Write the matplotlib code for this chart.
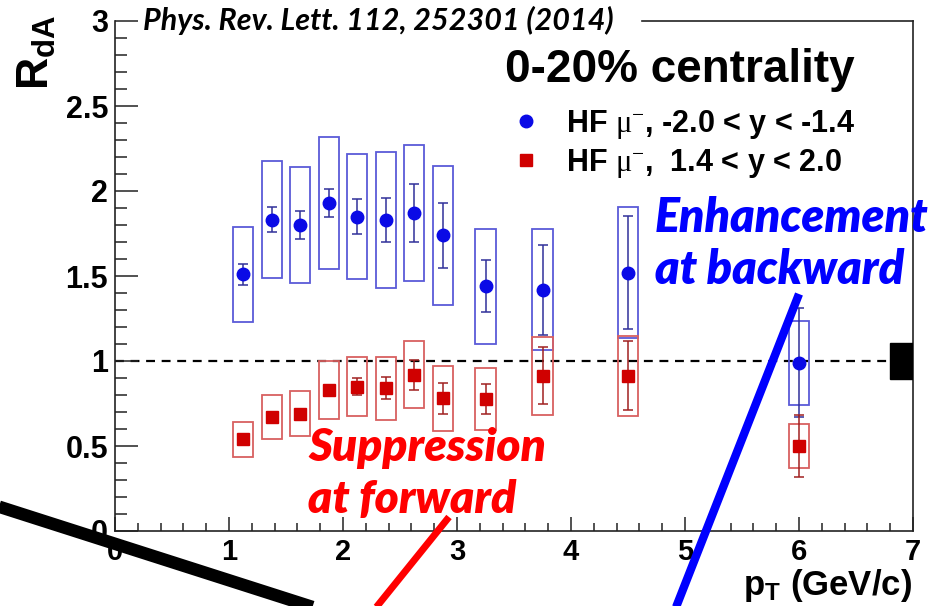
import matplotlib
matplotlib.use("Agg")
import matplotlib.pyplot as plt
from matplotlib.lines import Line2D
from matplotlib.patches import Rectangle
from matplotlib.ticker import MultipleLocator

# HF muon R_dA in 0-20% central d+Au, backward (-2.0<y<-1.4) and forward (1.4<y<2.0)
pt_backward = [1.12, 1.375, 1.62, 1.875, 2.125, 2.375, 2.625, 2.875, 3.25, 3.75, 4.5, 6.0]
rda_backward = [1.51, 1.83, 1.80, 1.93, 1.85, 1.83, 1.87, 1.74, 1.44, 1.42, 1.52, 0.99]
stat_backward = [0.06, 0.074, 0.082, 0.082, 0.10, 0.128, 0.17, 0.19, 0.154, 0.265, 0.334, 0.32]
sys_backward = [0.28, 0.344, 0.34, 0.387, 0.37, 0.40, 0.40, 0.408, 0.339, 0.357, 0.385, 0.247]

pt_forward = [1.12, 1.375, 1.62, 1.875, 2.125, 2.375, 2.625, 2.875, 3.25, 3.75, 4.5, 6.0]
rda_forward = [0.54, 0.67, 0.69, 0.83, 0.85, 0.84, 0.92, 0.78, 0.776, 0.914, 0.914, 0.50]
stat_forward = [0.02, 0.02, 0.025, 0.03, 0.05, 0.063, 0.088, 0.092, 0.088, 0.168, 0.204, 0.18]
sys_forward = [0.103, 0.128, 0.133, 0.17, 0.175, 0.186, 0.197, 0.19, 0.184, 0.23, 0.236, 0.132]

labels = [r"HF $\mathrm{\mu}^{-}$, -2.0 < y < -1.4", r"HF $\mathrm{\mu}^{-}$,  1.4 < y < 2.0"]

norm_unc = 0.107          # global normalisation uncertainty
box_halfwidth = 0.088

W, H = 937, 606
DPI = 100.0
AX_L, AX_R, AX_T, AX_B = 115, 913, 21, 531


def px(x, y):
    # pixel position (from top-left) -> figure fraction
    return x / W, 1 - y / H


plt.rcParams["font.family"] = ["Liberation Sans", "DejaVu Sans"]
plt.rcParams["mathtext.fontset"] = "custom"
plt.rcParams["mathtext.rm"] = "Liberation Serif"
plt.rcParams["mathtext.it"] = "Liberation Serif:italic"
plt.rcParams["mathtext.bf"] = "Liberation Sans:bold"
plt.rcParams["mathtext.sf"] = "Liberation Sans"

fig = plt.figure(figsize=(W / DPI, H / DPI), dpi=DPI)
ax = fig.add_axes([AX_L / W, 1 - AX_B / H, (AX_R - AX_L) / W, (AX_B - AX_T) / H])

blue_mk, blue_box, blue_err = "#0a0ae6", "#5a5ad8", "#30309a"
red_mk, red_box, red_err = "#d00000", "#d86060", "#a02020"

for x, y, s in zip(pt_backward, rda_backward, sys_backward):
    ax.add_patch(Rectangle((x - box_halfwidth, y - s), 2 * box_halfwidth, 2 * s,
                           fill=False, edgecolor=blue_box, lw=1.3, zorder=2))
for x, y, s in zip(pt_forward, rda_forward, sys_forward):
    ax.add_patch(Rectangle((x - box_halfwidth, y - s), 2 * box_halfwidth, 2 * s,
                           fill=False, edgecolor=red_box, lw=1.3, zorder=2))

ax.axhline(1.0, color="black", lw=1.6, dashes=(4, 3), zorder=1)

ax.errorbar(pt_backward, rda_backward, yerr=stat_backward, fmt="o", ms=9,
            color=blue_mk, ecolor=blue_err, elinewidth=1.1, capsize=3.5,
            capthick=1.1, zorder=4)
ax.errorbar(pt_forward, rda_forward, yerr=stat_forward, fmt="s", ms=9,
            color=red_mk, ecolor=red_err, elinewidth=1.1, capsize=3.5,
            capthick=1.1, zorder=4)

ax.add_patch(Rectangle((6.8, 1 - norm_unc), 0.2, 2 * norm_unc, facecolor="black",
                       edgecolor="black", zorder=3))

ax.set_xlim(0, 7)
ax.set_ylim(0, 3)
ax.xaxis.set_major_locator(MultipleLocator(1))
ax.xaxis.set_minor_locator(MultipleLocator(0.2))
ax.yaxis.set_major_locator(MultipleLocator(0.5))
ax.yaxis.set_minor_locator(MultipleLocator(0.1))
ax.yaxis.set_major_formatter(plt.FuncFormatter(lambda v, p: f"{v:g}"))
ax.tick_params(axis="both", which="both", direction="in", width=1.1, colors="#222222",
               labelcolor="black")
ax.tick_params(axis="x", which="major", length=10, pad=5, labelsize=21)
ax.tick_params(axis="x", which="minor", length=5.5)
ax.tick_params(axis="y", which="major", length=16.5, pad=5, labelsize=22)
ax.tick_params(axis="y", which="minor", length=8.5)
for lab in ax.get_xticklabels() + ax.get_yticklabels():
    lab.set_fontweight("bold")
for sp in ax.spines.values():
    sp.set_linewidth(1.2)
    sp.set_color("#222222")

# top frame only runs to the right of the reference text
ax.spines["top"].set_visible(False)
top_start = (642 - AX_L) / (AX_R - AX_L)
ax.plot([top_start, 1], [1, 1], transform=ax.transAxes, color="#222222", lw=1.2,
        clip_on=False, zorder=5)
# no tick mark at the very top of the y axis (label only)
ax.yaxis.get_major_ticks()[-1].tick1line.set_visible(False)

handles = [Line2D([], [], ls="none", marker="o", ms=9, color=blue_mk),
           Line2D([], [], ls="none", marker="s", ms=8, color=red_mk)]
ax.legend(handles, labels, loc="upper left", bbox_to_anchor=px(514, 108),
          bbox_transform=fig.transFigure, frameon=False, handlelength=0.8,
          handletextpad=0.9, labelspacing=0.2, borderpad=0, borderaxespad=0,
          prop={"size": 22, "weight": "bold"})

fig.text(*px(37, 52), r"$\mathbf{R_{dA}}$", rotation=90, ha="center", va="center",
         fontsize=32)
fig.text(*px(912, 586), r"$\mathbf{p_{T}}$ (GeV/c)", ha="right", va="center",
         fontsize=25, fontweight="bold")

fig.text(*px(378, 20), "Phys. Rev. Lett. 112, 252301 (2014)", ha="center", va="center",
         family=["Lato", "DejaVu Sans"], fontweight="bold", style="italic", fontsize=22)
fig.text(*px(680, 70), "0-20% centrality", ha="center", va="center", fontsize=33,
         fontweight="bold")

fig.text(*px(655, 218), "Enhancement", ha="left", va="center", color="#0000ff",
         family=["Lato", "DejaVu Sans"], fontweight="heavy", style="italic", fontsize=33.5)
fig.text(*px(655, 270), "at backward", ha="left", va="center", color="#0000ff",
         family=["Lato", "DejaVu Sans"], fontweight="heavy", style="italic", fontsize=33.5)
fig.text(*px(308, 448), "Suppression", ha="left", va="center", color="#ff0000",
         family=["Lato", "DejaVu Sans"], fontweight="heavy", style="italic", fontsize=33)
fig.text(*px(308, 500), "at forward", ha="left", va="center", color="#ff0000",
         family=["Lato", "DejaVu Sans"], fontweight="heavy", style="italic", fontsize=33)

# pointer strokes running off the bottom of the figure
for (x0, y0), (x1, y1), c, lw in [((-20, 500.6), (330, 612.6), "black", 9),
                                  ((449, 517), (370, 615), "#ff0000", 5),
                                  ((799, 294), (671, 620), "#0000ff", 6)]:
    fig.add_artist(Line2D([x0 / W, x1 / W], [1 - y0 / H, 1 - y1 / H], color=c, lw=lw,
                          solid_capstyle="butt", zorder=10))

fig.savefig("out.png", dpi=DPI)
